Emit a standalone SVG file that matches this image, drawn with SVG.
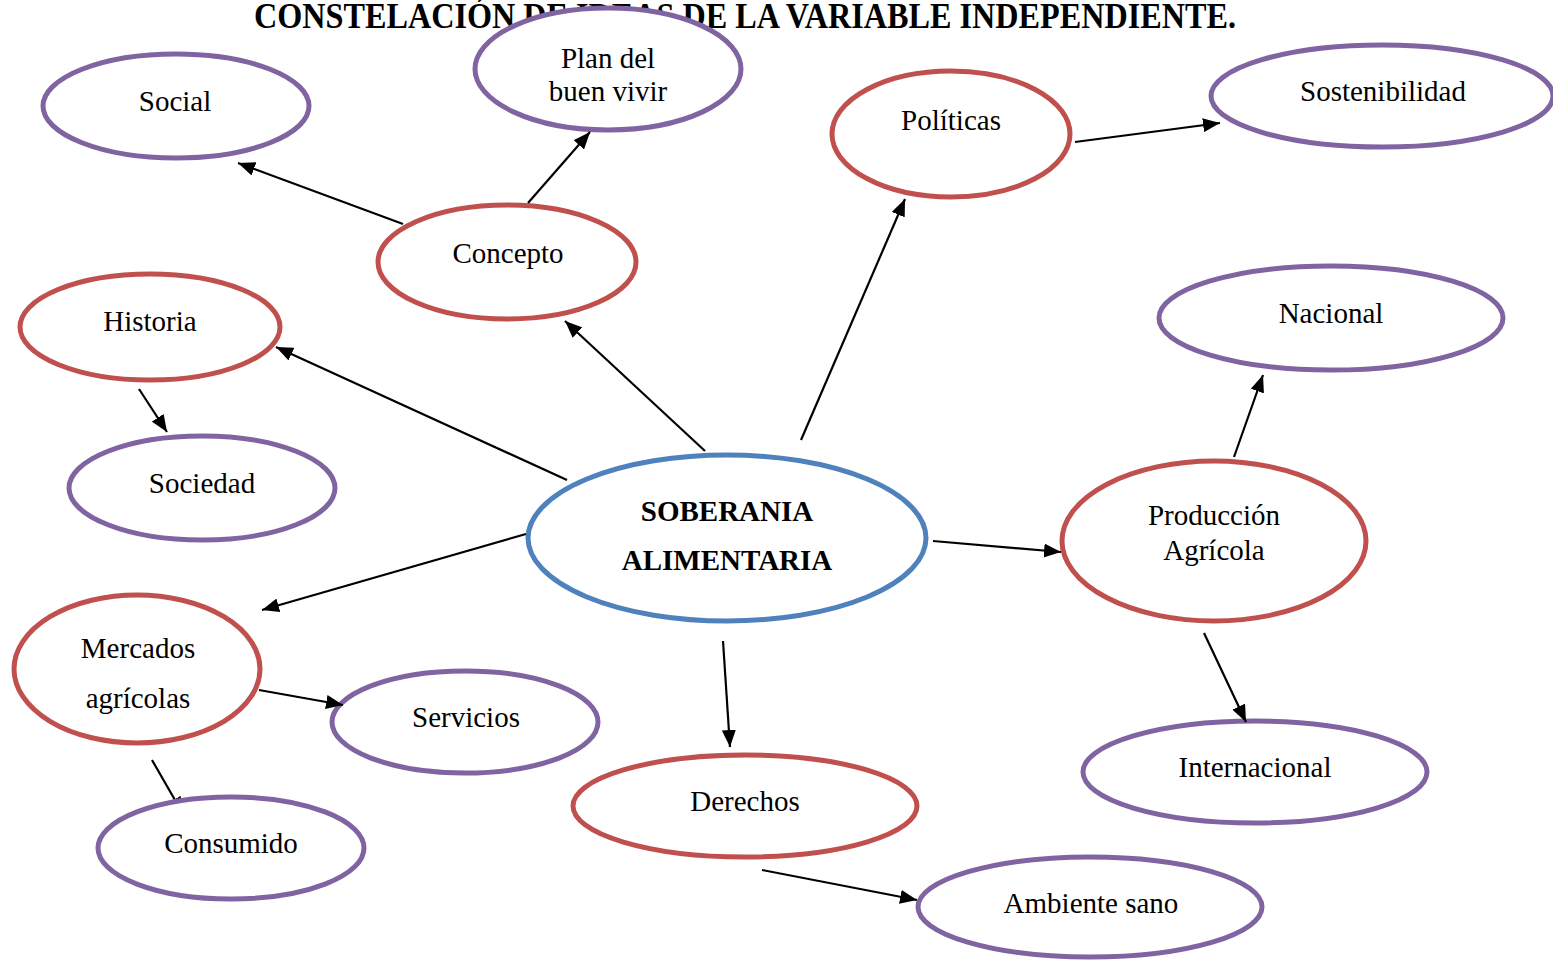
<svg xmlns="http://www.w3.org/2000/svg" width="1553" height="961" viewBox="0 0 1553 961">
<defs>
<style>
.t{font-family:"Liberation Serif","Times New Roman",serif;font-size:29px;fill:#000;text-anchor:middle}
.b{font-weight:bold}
.title{font-size:36px}
.red{fill:#fff;stroke:#C0504D;stroke-width:5}
.pur{fill:#fff;stroke:#8064A2;stroke-width:5}
.blu{fill:#fff;stroke:#4F81BD;stroke-width:5}
.c{stroke:#000;stroke-width:2.2;fill:none;marker-end:url(#ah)}
</style>
<marker id="ah" markerUnits="userSpaceOnUse" markerWidth="18" markerHeight="14" refX="17" refY="7" orient="auto">
<path d="M0,0 L17,7 L0,14 Z" fill="#000"/>
</marker>
</defs>
<rect width="1553" height="961" fill="#fff"/>
<text x="745" y="28" class="t b title" textLength="982" lengthAdjust="spacingAndGlyphs">CONSTELACIÓN DE IDEAS DE LA VARIABLE INDEPENDIENTE.</text>

<g id="social"><ellipse class="pur" cx="176" cy="106" rx="133" ry="52"/><text class="t" x="175" y="111">Social</text></g>
<g id="plan"><ellipse class="pur" cx="608" cy="69" rx="133" ry="61"/><text class="t" x="608" y="68">Plan del</text><text class="t" x="608" y="101">buen vivir</text></g>
<g id="politicas"><ellipse class="red" cx="951" cy="134" rx="119" ry="63"/><text class="t" x="951" y="130">Políticas</text></g>
<g id="sostenibilidad"><ellipse class="pur" cx="1382" cy="96" rx="171" ry="51"/><text class="t" x="1383" y="101">Sostenibilidad</text></g>
<g id="concepto"><ellipse class="red" cx="507" cy="262" rx="129" ry="57"/><text class="t" x="508" y="263">Concepto</text></g>
<g id="historia"><ellipse class="red" cx="150" cy="327" rx="130" ry="53"/><text class="t" x="150" y="331">Historia</text></g>
<g id="nacional"><ellipse class="pur" cx="1331" cy="318" rx="172" ry="52"/><text class="t" x="1331" y="323">Nacional</text></g>
<g id="sociedad"><ellipse class="pur" cx="202" cy="488" rx="133" ry="52"/><text class="t" x="202" y="493">Sociedad</text></g>
<g id="soberania"><ellipse class="blu" cx="727" cy="538" rx="199" ry="83"/><text class="t b" x="727" y="521">SOBERANIA</text><text class="t b" x="727" y="570">ALIMENTARIA</text></g>
<g id="produccion"><ellipse class="red" cx="1214" cy="541" rx="152" ry="80"/><text class="t" x="1214" y="525">Producción</text><text class="t" x="1214" y="560">Agrícola</text></g>
<g id="mercados"><ellipse class="red" cx="137" cy="669" rx="123" ry="74"/><text class="t" x="138" y="658">Mercados</text><text class="t" x="138" y="708">agrícolas</text></g>
<g id="servicios"><ellipse class="pur" cx="465" cy="722" rx="133" ry="51"/><text class="t" x="466" y="727">Servicios</text></g>
<g id="internacional"><ellipse class="pur" cx="1255" cy="772" rx="172" ry="51"/><text class="t" x="1255" y="777">Internacional</text></g>
<g id="derechos"><ellipse class="red" cx="745" cy="806" rx="172" ry="51"/><text class="t" x="745" y="811">Derechos</text></g>
<g id="ambiente"><ellipse class="pur" cx="1090" cy="907" rx="172" ry="50"/><text class="t" x="1091" y="913">Ambiente sano</text></g>

<g id="connectors">
<line class="c" x1="403" y1="224" x2="238" y2="163"/>
<line class="c" x1="528" y1="203" x2="590" y2="132"/>
<line class="c" x1="705" y1="451" x2="565" y2="321"/>
<line class="c" x1="567" y1="480" x2="276" y2="347"/>
<line class="c" x1="801" y1="440" x2="905" y2="199"/>
<line class="c" x1="1075" y1="142" x2="1220" y2="123"/>
<line class="c" x1="139" y1="389" x2="167" y2="432"/>
<line class="c" x1="526" y1="534" x2="262" y2="610"/>
<line class="c" x1="933" y1="541" x2="1061" y2="552"/>
<line class="c" x1="723" y1="641" x2="730" y2="747"/>
<line class="c" x1="1234" y1="457" x2="1263" y2="375"/>
<line class="c" x1="1204" y1="633" x2="1246" y2="722"/>
<line class="c" x1="259" y1="690" x2="343" y2="705"/>
<line class="c" x1="152" y1="760" x2="183" y2="814"/>
<line class="c" x1="762" y1="870" x2="917" y2="900"/>
</g>

<g id="consumido"><ellipse class="pur" cx="231" cy="848" rx="133" ry="51"/><text class="t" x="231" y="853">Consumido</text></g>
</svg>
